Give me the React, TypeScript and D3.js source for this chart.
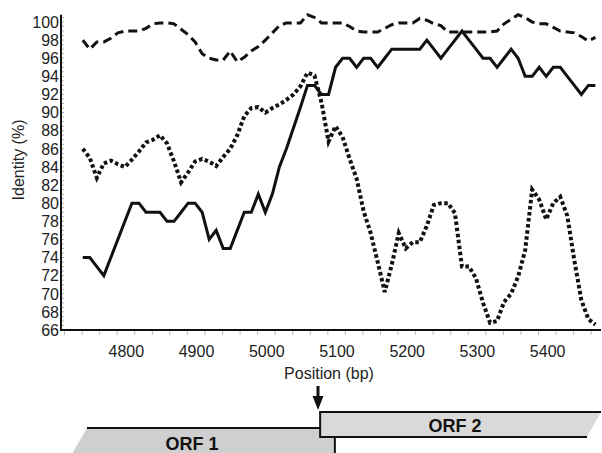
import React from "react";
import * as d3 from "d3";

const positions = d3.range(4738, 5475, 10);

const solidSeries = [
  74, 74, 73, 72, 74, 76, 78, 80, 80, 79,
  79, 79, 78, 78, 79, 80, 80, 79, 76, 77,
  75, 75, 77, 79, 79, 81, 79, 81, 84, 86,
  88.3, 90.6, 93, 93, 92, 92, 95, 96, 96, 95,
  96, 96, 95, 96, 97, 97, 97, 97, 97, 98,
  97, 96, 97, 98, 99, 98, 97, 96, 96, 95,
  96, 97, 96, 94, 94, 95, 94, 95, 95, 94,
  93, 92, 93, 93,
];

const dashedSeries = [
  98, 97, 97.8, 97.8, 98.2, 98.8, 99, 99, 99, 99.3,
  99.8, 99.9, 99.9, 99.8, 99.2, 98.6, 97.8, 96.5, 96, 95.8,
  95.8, 96.8, 95.6, 96.1, 96.8, 97.3, 98, 98.8, 99.6, 99.9,
  99.9, 99.9, 100.8, 100.5, 99.9, 99.9, 99.9, 99.9, 99.5, 99,
  98.9, 98.9, 98.9, 99.3, 99.7, 99.9, 99.9, 99.9, 100.4, 100.2,
  99.8, 99.6, 98.9, 98.9, 98.9, 98.9, 98.9, 98.9, 98.9, 99,
  99.8, 100.3, 100.8, 100.5, 100, 99.8, 99.8, 99.4, 99, 98.9,
  98.8, 98.4, 97.9, 98.3,
];

const dottedSeries = [
  86, 85, 82.8, 84.4, 84.7, 84.3, 84, 84.8, 85.7, 86.7,
  87, 87.5, 86.6, 84.6, 82.3, 83.4, 84.6, 84.9, 84.6, 84.1,
  85.1, 86, 87.5, 89.6, 90.5, 90.6, 90, 90.5, 90.9, 91.4,
  92, 92.9, 94.4, 94.1, 91.1, 86.8, 88.5, 87.3, 84.9, 82.7,
  79.1, 76.7, 73.5, 70.2, 73.2, 76.7, 75, 75.7, 75.7, 77.5,
  79.8, 80, 80, 78.9, 73, 73, 71.7, 69, 66.8, 67,
  69.1, 70, 71.9, 74.8, 81.5, 80.4, 78.2, 80, 80.7, 78.6,
  73.7, 69.3, 67.2, 66.6,
];

const yTicks = d3.range(66, 101, 2);
const yMinorTicks = d3.range(66, 100.6, 0.5);
const xTicks = [4800, 4900, 5000, 5100, 5200, 5300, 5400];
const xMinorTicks = d3.range(4712, 5476, 25);

const orf1 = { start: 4744, end: 5097, label: "ORF 1" };
const orf2 = { start: 5076, end: 5476, label: "ORF 2" };
const arrowPos = 5073;

const FONT = "'Liberation Sans', Arial, Helvetica, sans-serif";

export default function App() {
  const W = 602;
  const H = 453;
  const x = d3.scaleLinear().domain([4707, 5476]).range([61, 601]);
  const y = d3.scaleLinear().domain([66, 100]).range([330, 22]);

  const line = d3
    .line<number>()
    .x((_, i) => x(positions[i]))
    .y((d) => y(d));

  const axisTop = y(100.8);

  const orf1Top = 428;
  const orf1Bot = 454;
  const orf2Top = 412;
  const orf2Bot = 437;
  const slant1 = 15;
  const slant2 = 14;
  const x1s = x(orf1.start);
  const x1e = x(orf1.end);
  const x2s = x(orf2.start);
  const x2e = x(orf2.end);
  const ax = x(arrowPos);

  return (
    <svg
      width={W}
      height={H}
      style={{ position: "absolute", left: 0, top: 0, background: "#fff" }}
      fontFamily={FONT}
    >
      <rect x={0} y={0} width={W} height={H} fill="#fff" />

      {yMinorTicks.map((t) => (
        <line
          key={"ym" + t}
          x1={61}
          x2={64}
          y1={y(t)}
          y2={y(t)}
          stroke="#999"
          strokeWidth={0.8}
        />
      ))}
      {yTicks.map((t) => (
        <text
          key={"yl" + t}
          x={59}
          y={y(t)}
          dy="0.36em"
          textAnchor="end"
          fontSize={16}
          fill="#222"
        >
          {t}
        </text>
      ))}
      {xMinorTicks.map((t) => (
        <line
          key={"xm" + t}
          x1={x(t)}
          x2={x(t)}
          y1={331}
          y2={335}
          stroke="#aaa"
          strokeWidth={0.8}
        />
      ))}
      {xTicks.map((t) => (
        <text
          key={"xl" + t}
          x={x(t)}
          y={357}
          textAnchor="middle"
          fontSize={16}
          fill="#222"
        >
          {t}
        </text>
      ))}

      <line x1={61} x2={61} y1={axisTop} y2={331} stroke="#111" strokeWidth={2} />
      <line x1={60} x2={601} y1={330} y2={330} stroke="#111" strokeWidth={2} />

      <text x={329} y={379} textAnchor="middle" fontSize={16} fill="#222">
        Position (bp)
      </text>
      <text
        transform="translate(24,160) rotate(-90)"
        textAnchor="middle"
        fontSize={16}
        fill="#222"
      >
        Identity (%)
      </text>

      <path
        d={line(dashedSeries) || ""}
        fill="none"
        stroke="#111"
        strokeWidth={3}
        strokeDasharray="9,5"
      />
      <path
        d={line(dottedSeries) || ""}
        fill="none"
        stroke="#111"
        strokeWidth={4}
        strokeDasharray="3.5,2.6"
      />
      <path
        d={line(solidSeries) || ""}
        fill="none"
        stroke="#111"
        strokeWidth={3}
        strokeLinejoin="miter"
      />

      <line x1={ax} x2={ax} y1={386} y2={398} stroke="#111" strokeWidth={3} />
      <path
        d={`M${ax - 5.5},${396} L${ax + 5.5},${396} L${ax},${410} Z`}
        fill="#111"
      />

      <path
        d={`M${x1s},${orf1Top} L${x1e},${orf1Top} L${x1e},${orf1Bot} L${x1s - slant1},${orf1Bot} Z`}
        fill="#cfcfcf"
      />
      <line x1={x1s} x2={x2s} y1={orf1Top} y2={orf1Top} stroke="#111" strokeWidth={2} />
      <line x1={x1e} x2={x1e} y1={orf2Bot} y2={orf1Bot} stroke="#111" strokeWidth={2} />
      <text
        x={192}
        y={450}
        textAnchor="middle"
        fontSize={18}
        fontWeight="bold"
        fill="#111"
      >
        {orf1.label}
      </text>

      <path
        d={`M${x2s},${orf2Top} L${x2e},${orf2Top} L${x2e - slant2},${orf2Bot} L${x2s},${orf2Bot} Z`}
        fill="#d9d9d9"
      />
      <line x1={x2s} x2={x2e} y1={orf2Top} y2={orf2Top} stroke="#111" strokeWidth={2} />
      <line x1={x2s} x2={x2s} y1={orf2Top - 1} y2={orf2Bot + 1} stroke="#111" strokeWidth={2} />
      <line x1={x2s} x2={x2e - slant2} y1={orf2Bot} y2={orf2Bot} stroke="#111" strokeWidth={2} />
      <text
        x={455}
        y={431.5}
        textAnchor="middle"
        fontSize={18}
        fontWeight="bold"
        fill="#111"
      >
        {orf2.label}
      </text>
    </svg>
  );
}
